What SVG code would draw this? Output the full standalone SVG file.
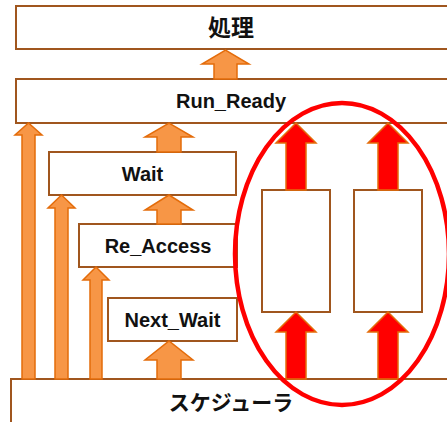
<svg xmlns="http://www.w3.org/2000/svg" width="447" height="422" viewBox="0 0 447 422">
<style>
.box{fill:#fff;stroke:#A0561E;stroke-width:2}
.lbl{font-family:"Liberation Sans","Noto Sans CJK JP",sans-serif;font-weight:bold;font-size:20px;fill:#111;text-anchor:middle}
.jp{font-family:"Noto Sans CJK JP",sans-serif;font-weight:bold;font-size:21px;fill:#111;text-anchor:middle}
.oa{fill:#F79646;stroke:#E46C0A;stroke-width:1.5}
.ra{fill:#FF0000;stroke:#E46C0A;stroke-width:1.5}
</style>
<g id="shori"><rect class="box" x="16" y="6" width="440" height="43"/><text class="jp" x="231" y="36" style="font-size:23px">処理</text></g>
<g id="run_ready"><rect class="box" x="16" y="79" width="440" height="44"/><text class="lbl" x="231" y="108">Run_Ready</text></g>
<g id="wait"><rect class="box" x="49" y="152" width="187" height="43"/><text class="lbl" x="142.5" y="181">Wait</text></g>
<g id="re_access"><rect class="box" x="79" y="224" width="158" height="43"/><text class="lbl" x="158" y="253">Re_Access</text></g>
<g id="next_wait"><rect class="box" x="108" y="298" width="129" height="43"/><text class="lbl" x="172.5" y="327">Next_Wait</text></g>
<g id="scheduler"><rect class="box" x="11" y="379" width="450" height="60"/><text class="jp" x="231" y="410">スケジューラ</text></g>
<g id="box_a"><rect class="box" x="262" y="190" width="68" height="122"/></g>
<g id="box_b"><rect class="box" x="354" y="190" width="68" height="122"/></g>
<g id="connectors">
<path class="oa" d="M214,79 V64 H202 L225.5,50 L249,64 H237 V79 Z"/>
<path class="oa" d="M22,379 V135 H15 L28.5,123 L42,135 H35 V379 Z"/>
<path class="oa" d="M157,152 V137 H145 L169,123 L193,137 H181 V152 Z"/>
<path class="oa" d="M55,379 V208 H48 L61.5,195 L75,208 H68 V379 Z"/>
<path class="oa" d="M157,224 V210 H145 L169,195 L193,210 H181 V224 Z"/>
<path class="oa" d="M90,379 V280 H83 L96,267 L109,280 H102 V379 Z"/>
<path class="oa" d="M157,379 V360 H145 L169,341 L193,360 H181 V379 Z"/>
<path class="ra" d="M286,190 V143 H276 L296,123 L316,143 H306 V190 Z"/>
<path class="ra" d="M378,190 V143 H368 L388,123 L408,143 H398 V190 Z"/>
<path class="ra" d="M286,379 V332 H276 L296,312 L316,332 H306 V379 Z"/>
<path class="ra" d="M378,379 V332 H368 L388,312 L408,332 H398 V379 Z"/>
</g>
<g id="highlight"><ellipse cx="342" cy="254" rx="107" ry="151" fill="none" stroke="#FF0000" stroke-width="4.5"/></g>
</svg>
